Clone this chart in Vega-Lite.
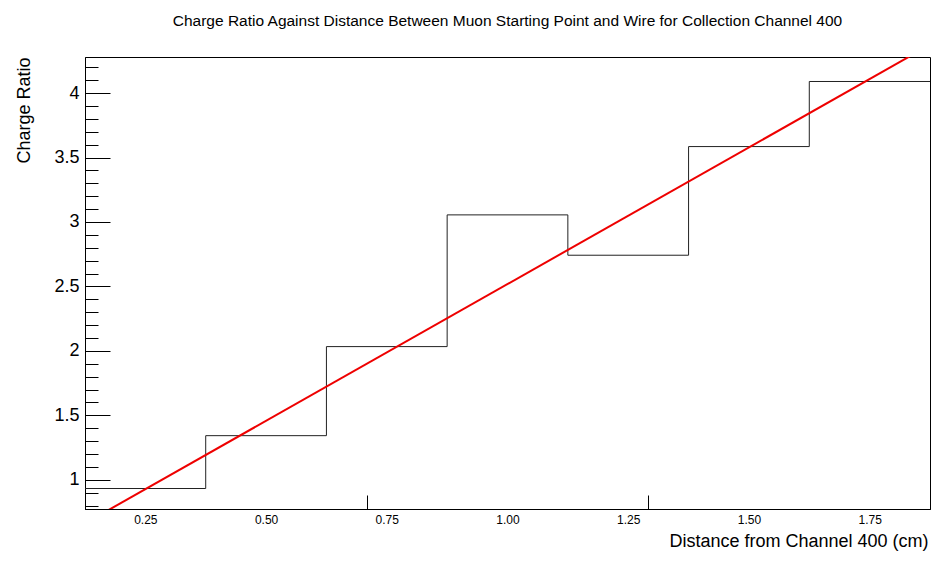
{
  "$schema": "https://vega.github.io/schema/vega-lite/v6.json",
  "width": 845,
  "height": 452,
  "autosize": "none",
  "padding": {"left": 85, "top": 57, "right": 21, "bottom": 53},
  "background": "white",
  "config": {
    "font": "Liberation Sans",
    "view": {"stroke": "#000", "strokeWidth": 1},
    "axis": {"grid": false, "domainColor": "#000", "tickColor": "#000", "labelColor": "#000", "titleColor": "#000", "titleFontWeight": "normal", "labelFont": "Liberation Sans", "titleFont": "Liberation Sans"}
  },
  "title": {"text": "Charge Ratio Against Distance Between Muon Starting Point and Wire for Collection Channel 400", "fontSize": 15.5, "fontWeight": "normal", "font": "Liberation Sans", "color": "#000", "anchor": "middle", "offset": 28},
  "datasets": {
    "bins": [
      {"lo": 0.125, "hi": 0.375, "center": 0.25, "value": 0.932, "next": 1.342},
      {"lo": 0.375, "hi": 0.625, "center": 0.5, "value": 1.342, "next": 2.033},
      {"lo": 0.625, "hi": 0.875, "center": 0.75, "value": 2.033, "next": 3.055},
      {"lo": 0.875, "hi": 1.125, "center": 1.0, "value": 3.055, "next": 2.742},
      {"lo": 1.125, "hi": 1.375, "center": 1.25, "value": 2.742, "next": 3.585},
      {"lo": 1.375, "hi": 1.625, "center": 1.5, "value": 3.585, "next": 4.09},
      {"lo": 1.625, "hi": 1.875, "center": 1.75, "value": 4.09, "next": null}
    ],
    "fit": [
      {"x": 0.16, "y": 0.736},
      {"x": 1.84, "y": 4.3}
    ]
  },
  "layer": [
    {
      "data": {"name": "bins"},
      "mark": {"type": "rule", "color": "#222", "strokeWidth": 1},
      "encoding": {
        "x": {"field": "lo", "type": "quantitative", "scale": {"domain": [0.125, 1.875], "nice": false, "zero": false},
          "axis": {"orient": "bottom", "values": [0.25, 0.5, 0.75, 1.0, 1.25, 1.5, 1.75], "format": ".2f", "ticks": false, "labelFontSize": 12, "labelPadding": 5, "title": "Distance from Channel 400 (cm)", "titleFontSize": 18, "titleAnchor": "end", "titleAlign": "right", "titleBaseline": "alphabetic", "titleX": 843, "titleY": 37, "domain": true}},
        "x2": {"field": "hi"},
        "y": {"field": "value", "type": "quantitative", "scale": {"domain": [0.773, 4.28], "nice": false, "zero": false},
          "axis": {"orient": "left", "values": [1, 1.5, 2, 2.5, 3, 3.5, 4], "format": "~g", "ticks": false, "labelFontSize": 18, "labelPadding": 6, "labelBaseline": "middle", "title": "Charge Ratio", "titleFontSize": 18, "titleAnchor": "end", "titleX": -61, "titleBaseline": "middle", "domain": true}}
      }
    },
    {
      "data": {"name": "bins"},
      "transform": [{"filter": "datum.next != null"}],
      "mark": {"type": "rule", "color": "#222", "strokeWidth": 1},
      "encoding": {
        "x": {"field": "hi", "type": "quantitative", "scale": {"domain": [0.125, 1.875], "nice": false, "zero": false},
          "axis": {"orient": "bottom", "values": [0.125, 0.7083, 1.2917, 1.875], "labels": false, "ticks": true, "tickSize": -14, "domain": false, "title": null}},
        "y": {"field": "value", "type": "quantitative", "scale": {"domain": [0.773, 4.28], "nice": false, "zero": false},
          "axis": {"orient": "left", "values": [1, 1.5, 2, 2.5, 3, 3.5, 4], "labels": false, "ticks": true, "tickSize": -25, "domain": false, "title": null}},
        "y2": {"field": "next"}
      }
    },
    {
      "data": {"name": "fit"},
      "mark": {"type": "line", "color": "#ee0000", "strokeWidth": 2, "clip": true},
      "encoding": {
        "x": {"field": "x", "type": "quantitative", "scale": {"domain": [0.125, 1.875], "nice": false, "zero": false}, "axis": null},
        "y": {"field": "y", "type": "quantitative", "scale": {"domain": [0.773, 4.28], "nice": false, "zero": false},
          "axis": {"orient": "left", "values": [0.8, 0.9, 1.1, 1.2, 1.3, 1.4, 1.6, 1.7, 1.8, 1.9, 2.1, 2.2, 2.3, 2.4, 2.6, 2.7, 2.8, 2.9, 3.1, 3.2, 3.3, 3.4, 3.6, 3.7, 3.8, 3.9, 4.1, 4.2], "labels": false, "ticks": true, "tickSize": -13, "domain": false, "title": null}}
      }
    }
  ],
  "resolve": {"axis": {"x": "independent", "y": "independent"}}
}
